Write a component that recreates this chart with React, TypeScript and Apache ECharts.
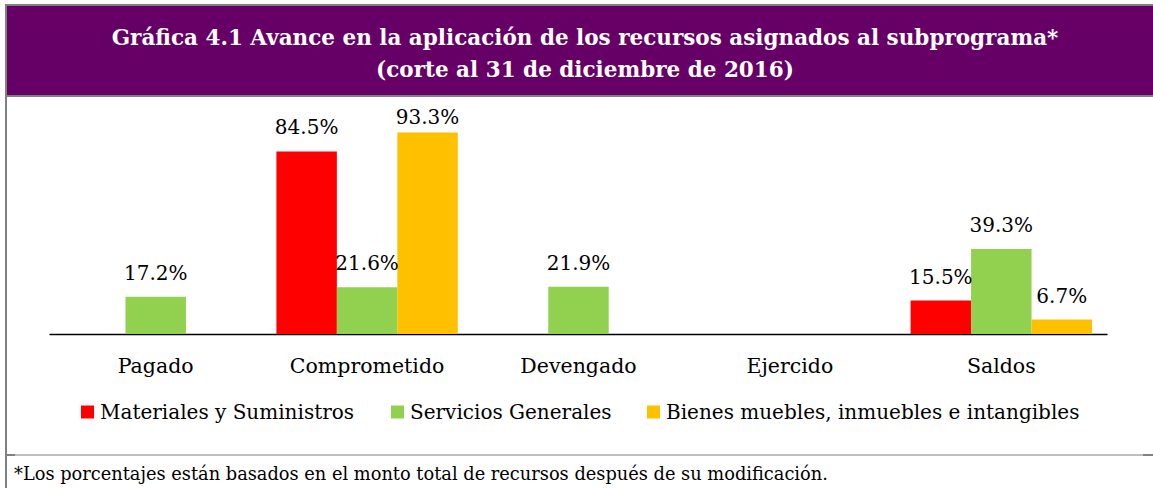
import React, { useEffect, useRef } from "react";
import * as echarts from "echarts";

const categories = ["Pagado", "Comprometido", "Devengado", "Ejercido", "Saldos"];
const seriesNames = [
  "Materiales y Suministros",
  "Servicios Generales",
  "Bienes muebles, inmuebles e intangibles",
];
const materiales: (number | null)[] = [null, 84.5, null, null, 15.5];
const servicios: (number | null)[] = [17.2, 21.6, 21.9, null, 39.3];
const bienes: (number | null)[] = [null, 93.3, null, null, 6.7];
const colors = ["#FF0000", "#92D050", "#FFC000"];
const titleLines = [
  "Gráfica 4.1 Avance en la aplicación de los recursos asignados al subprograma*",
  "(corte al 31 de diciembre de 2016)",
];
const footnote =
  "*Los porcentajes están basados en el monto total de recursos después de su modificación.";

const FONT = "DejaVu Serif";

export default function App() {
  const ref = useRef<HTMLDivElement>(null);
  useEffect(() => {
    document.body.style.margin = "0";
    if (!ref.current) return;
    const chart = echarts.init(ref.current, null, { renderer: "svg" });
    const allData = [materiales, servicios, bienes];
    const legendLefts = [81, 391, 647];
    const mkData = (arr: (number | null)[]) =>
      arr.map((v) =>
        v === null
          ? null
          : {
              value: v,
              label: { distance: v > 90 ? 5 : 14 },
            }
      );
    chart.setOption({
      animation: false,
      backgroundColor: "#ffffff",
      grid: { left: 50, right: 46, top: 118, bottom: 154, containLabel: false },
      xAxis: {
        type: "category",
        data: categories,
        axisLine: { show: true, lineStyle: { color: "#000000", width: 1.4 } },
        axisTick: { show: false },
        axisLabel: {
          margin: 21,
          fontFamily: FONT,
          fontSize: 20.5,
          color: "#000000",
        },
      },
      yAxis: {
        type: "value",
        min: 0,
        max: 100,
        show: false,
        splitLine: { show: false },
      },
      legend: legendLefts.map((l, i) => ({
        data: [seriesNames[i]],
        left: l,
        top: 402,
        icon: "rect",
        itemWidth: 13,
        itemHeight: 13,
        padding: 0,
        textStyle: { fontFamily: FONT, fontSize: 20, color: "#000000", padding: [0, 0, 0, 1] },
      })),
      series: allData.map((arr, i) => ({
        type: "bar",
        name: seriesNames[i],
        data: mkData(arr),
        barGap: "0%",
        barCategoryGap: "14.2%",
        itemStyle: { color: colors[i] },
        label: {
          show: true,
          position: "top",
          formatter: (p: any) => `${Number(p.value).toFixed(1)}%`,
          fontFamily: FONT,
          fontSize: 20,
          color: "#000000",
        },
      })),
      graphic: [
        { type: "rect", shape: { x: 7, y: 6, width: 1146, height: 89 }, style: { fill: "#660066" }, silent: true },
        { type: "rect", shape: { x: 5, y: 4, width: 1148, height: 2 }, style: { fill: "#808080" }, silent: true },
        { type: "rect", shape: { x: 5, y: 4, width: 2, height: 484 }, style: { fill: "#808080" }, silent: true },
        { type: "rect", shape: { x: 7, y: 95, width: 1146, height: 2 }, style: { fill: "#808080" }, silent: true },
        { type: "rect", shape: { x: 7, y: 454.5, width: 1146, height: 1 }, style: { fill: "#808080" }, silent: true },
        { type: "rect", shape: { x: 7, y: 454, width: 8, height: 2 }, style: { fill: "#808080" }, silent: true },
        { type: "rect", shape: { x: 1143, y: 454, width: 10, height: 2 }, style: { fill: "#808080" }, silent: true },
        {
          type: "text",
          x: 585,
          y: 37,
          style: {
            text: titleLines[0],
            fill: "#ffffff",
            fontFamily: FONT,
            fontWeight: "bold",
            fontSize: 21.5,
            align: "center",
            verticalAlign: "middle",
          },
          silent: true,
        },
        {
          type: "text",
          x: 585,
          y: 69.5,
          style: {
            text: titleLines[1],
            fill: "#ffffff",
            fontFamily: FONT,
            fontWeight: "bold",
            fontSize: 21.5,
            align: "center",
            verticalAlign: "middle",
          },
          silent: true,
        },
        {
          type: "text",
          x: 14,
          y: 473,
          style: {
            text: footnote,
            fill: "#000000",
            fontFamily: FONT,
            fontSize: 17.8,
            align: "left",
            verticalAlign: "middle",
          },
          silent: true,
        },
      ],
    });
    return () => chart.dispose();
  }, []);
  return (
    <div
      ref={ref}
      style={{ position: "absolute", left: 0, top: 0, width: 1153, height: 488 }}
    />
  );
}
